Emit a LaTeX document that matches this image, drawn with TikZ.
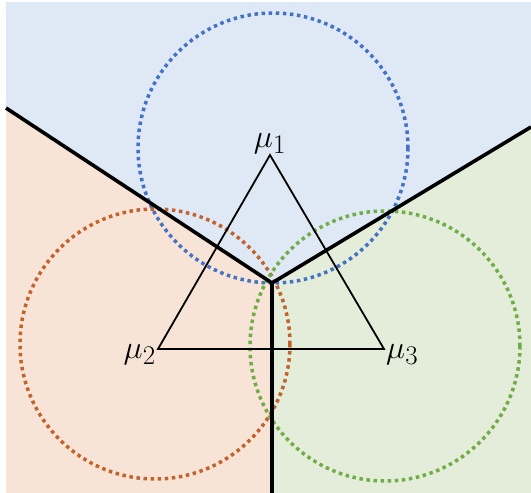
\documentclass[tikz,border=0pt]{standalone}
\usepackage{graphicx}
\usepackage{amsmath}
\usetikzlibrary{positioning}
\definecolor{cblue}{HTML}{4472C4}
\definecolor{corange}{HTML}{C4622D}
\definecolor{cgreen}{HTML}{70AD47}
\definecolor{fblue}{HTML}{DEE9F5}
\definecolor{forange}{HTML}{F8E4D6}
\definecolor{fgreen}{HTML}{E3EDDA}
\newcommand{\mlabel}[1]{\scalebox{1.3}{$\mu_{#1}$}}
\begin{document}
\begin{tikzpicture}[x=1pt,y=-1pt,
  ring/.style={line width=3.5pt,dash pattern=on 3.5pt off 3.6pt},
  border/.style={line width=3.6pt},
  edge/.style={line width=1.8pt,line join=miter},
  lbl/.style={font=\Huge,inner sep=1pt}]
\useasboundingbox (0,0) rectangle (531,493);
% cell corners
\coordinate (v) at (272,283);
\coordinate (tl) at (6,108); \coordinate (tr) at (531,127);
\coordinate (bt) at (272,493);
% regions
\fill[fblue] (6,2) -- (531,2) -- (tr) -- (v) -- (tl) -- cycle;
\fill[forange] (tl) -- (v) -- (bt) -- (6,493) -- cycle;
\fill[fgreen] (v) -- (tr) -- (531,493) -- (bt) -- cycle;
% means
\coordinate (m1) at (270,155); \coordinate (m2) at (158,349); \coordinate (m3) at (384,349);
% circles
\coordinate (c1) at (273,148); \coordinate (c2) at (155,344); \coordinate (c3) at (385,346);
\draw[ring,cblue] (c1) circle[radius=135];
\draw[ring,corange] (c2) circle[radius=135];
\draw[ring,cgreen] (c3) circle[radius=135];
% boundaries
\draw[border] (tl) -- (v) -- (tr);
\draw[border] (v) -- (bt);
% triangle
\draw[edge] (m1) -- (m2) -- (m3) -- cycle;
\node[lbl,anchor=south] (l1) at (m1) {\mlabel{1}};
\node[lbl,anchor=base east,xshift=-1pt,yshift=-9pt] (l2) at (m2) {\mlabel{2}};
\node[lbl,anchor=base west,xshift=1pt,yshift=-9pt] (l3) at (m3) {\mlabel{3}};
\end{tikzpicture}
\end{document}
